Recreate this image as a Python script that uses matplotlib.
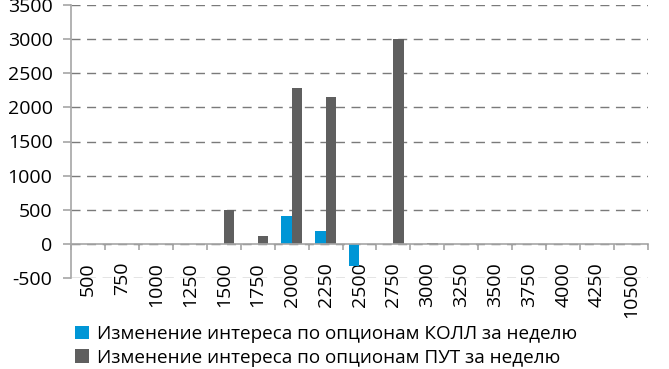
import matplotlib
matplotlib.use("Agg")
import matplotlib.pyplot as plt
from matplotlib.patches import Patch
import numpy as np

strikes = ["500", "750", "1000", "1250", "1500", "1750", "2000", "2250", "2500",
           "2750", "3000", "3250", "3500", "3750", "4000", "4250", "10500"]
call_change = [0, 0, 0, 0, 0, 0, 410, 190, -330, 0, 0, 0, 0, 0, 0, 0, 0]
put_change = [0, 0, 0, 0, 490, 120, 2290, 2150, 0, 3000, 15, 0, 0, 0, 0, 0, 0]
y_ticks = [-500, 0, 500, 1000, 1500, 2000, 2500, 3000, 3500]

call_label = "Изменение интереса по опционам КОЛЛ за неделю"
put_label = "Изменение интереса по опционам ПУТ за неделю"

CALL_COLOR = "#0096d6"
PUT_COLOR = "#5f5f5f"
AXIS_COLOR = "#a6a6a6"
GRID_COLOR = "#7a7a7a"

plt.rcParams["font.family"] = ["Open Sans", "DejaVu Sans"]

fig = plt.figure(figsize=(6.69, 3.69), dpi=100)
ax = fig.add_axes([71 / 669, 1 - 278 / 369, (648 - 71) / 669, (278 - 5) / 369])

x = np.arange(len(strikes))
w = 0.3
ax.bar(x - w / 2, call_change, width=w, color=CALL_COLOR, zorder=3)
ax.bar(x + w / 2, put_change, width=w, color=PUT_COLOR, zorder=3)

ax.set_xlim(-0.5, len(strikes) - 0.5)
ax.set_ylim(-500, 3500)
ax.set_yticks(y_ticks)
ax.set_yticklabels([str(v) for v in y_ticks])

# horizontal dashed grid
ax.yaxis.grid(True, color=GRID_COLOR, linestyle=(0, (6.5, 4.7)), linewidth=1.0, zorder=0)
ax.set_axisbelow(True)

for s in ("top", "right"):
    ax.spines[s].set_visible(False)
ax.spines["left"].set_color(AXIS_COLOR)
ax.spines["left"].set_linewidth(1.2)
ax.spines["bottom"].set_position(("data", 0))
ax.spines["bottom"].set_color(AXIS_COLOR)
ax.spines["bottom"].set_linewidth(1.2)
ax.spines["bottom"].set_zorder(4)

# category boundaries as major ticks, labels at category centres
ax.set_xticks(np.arange(len(strikes) + 1) - 0.5)
ax.set_xticklabels([])
ax.set_xticks(x, minor=True)
ax.set_xticklabels(strikes, minor=True, rotation=90, fontsize=14, va="top")
ax.tick_params(axis="x", which="major", direction="out", length=4.3, width=1.2,
               color=AXIS_COLOR)
ax.tick_params(axis="x", which="minor", length=0, pad=13)
ax.tick_params(axis="y", direction="out", length=5.8, width=1.2, color=AXIS_COLOR,
               labelsize=14, pad=7.5)

handles = [Patch(facecolor=CALL_COLOR, label=call_label),
           Patch(facecolor=PUT_COLOR, label=put_label)]
fig.legend(handles=handles, loc="upper left", bbox_to_anchor=(75 / 669, 1 - 325 / 369),
           frameon=False, fontsize=13.6, handlelength=0.74, handleheight=0.74,
           handletextpad=0.42, labelspacing=0.3, borderaxespad=0, borderpad=0)

fig.savefig("out.png", dpi=100)
